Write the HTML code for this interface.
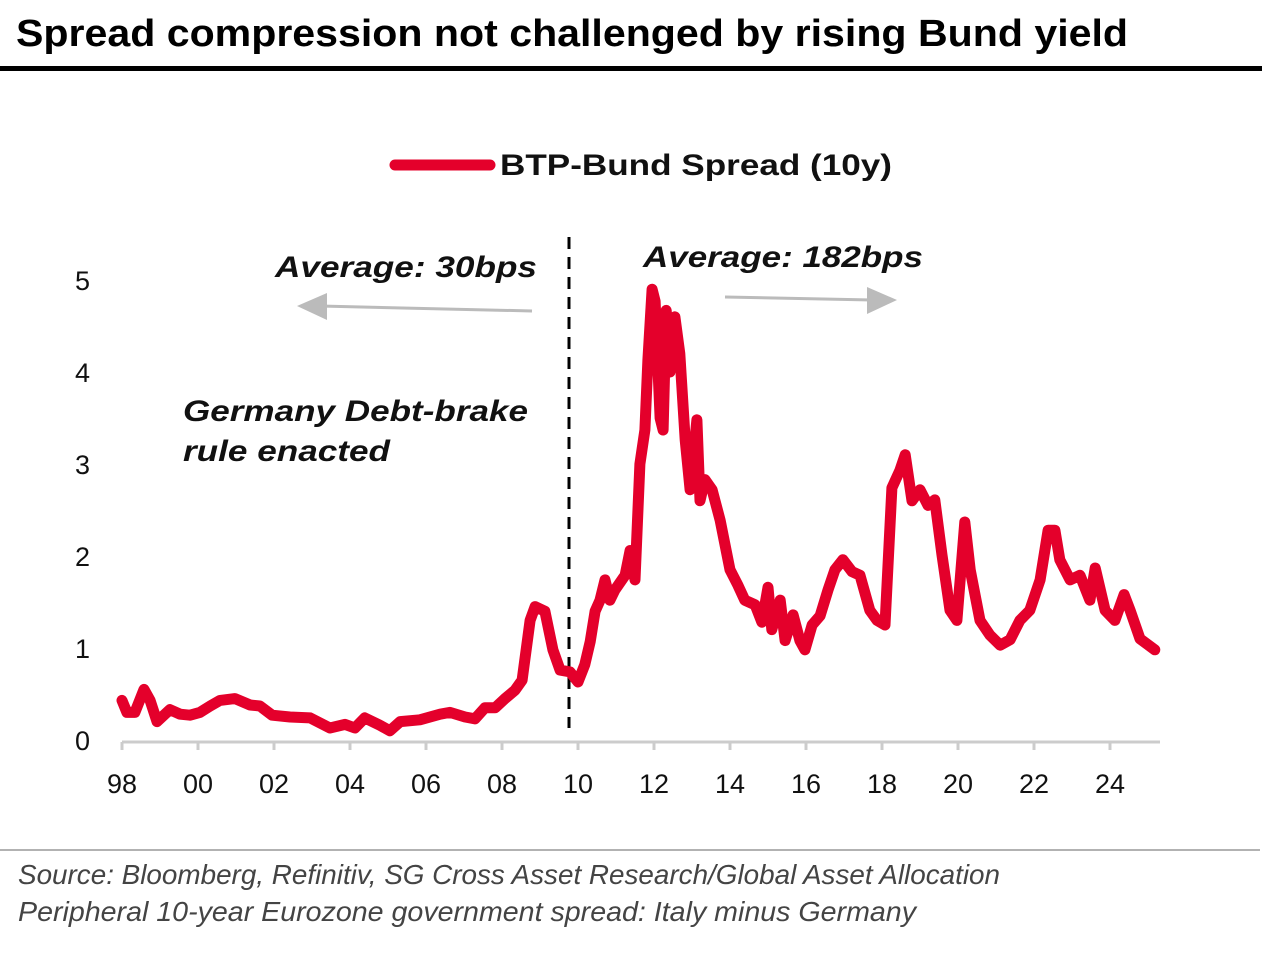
<!DOCTYPE html>
<html><head><meta charset="utf-8"><style>
body{margin:0;background:#fff;width:1272px;height:950px;overflow:hidden;font-family:"Liberation Sans",sans-serif}
</style></head><body>
<svg width="1272" height="950">
<text x="16" y="46" font-size="38" font-weight="bold" fill="#000" textLength="1112" lengthAdjust="spacingAndGlyphs">Spread compression not challenged by rising Bund yield</text>
<rect x="0" y="66" width="1262" height="5" fill="#000"/>
<g>
<line x1="395" y1="165" x2="490" y2="165" stroke="#e4002b" stroke-width="11" stroke-linecap="round"/>
<text x="500" y="175" font-size="30" font-weight="bold" fill="#111" textLength="392" lengthAdjust="spacingAndGlyphs">BTP-Bund Spread (10y)</text>
</g>
<g id="yt"></g>
<g id="xt"></g>
<line x1="569" y1="237" x2="569" y2="728" stroke="#000" stroke-width="3" stroke-dasharray="12,8"/>
<text x="275" y="277" font-size="30" font-weight="bold" font-style="italic" fill="#111" textLength="262" lengthAdjust="spacingAndGlyphs">Average: 30bps</text>
<text x="643" y="267" font-size="30" font-weight="bold" font-style="italic" fill="#111" textLength="280" lengthAdjust="spacingAndGlyphs">Average: 182bps</text>
<text x="183" y="421" font-size="30" font-weight="bold" font-style="italic" fill="#111" textLength="345" lengthAdjust="spacingAndGlyphs">Germany Debt-brake</text>
<text x="183" y="461" font-size="30" font-weight="bold" font-style="italic" fill="#111" textLength="207" lengthAdjust="spacingAndGlyphs">rule enacted</text>
<g><line x1="532" y1="311" x2="320" y2="306" stroke="#bbb" stroke-width="3"/><polygon points="297,306 327,293 327,320" fill="#bbb"/></g>
<g><line x1="725" y1="297" x2="872" y2="300" stroke="#bbb" stroke-width="3"/><polygon points="897,300 867,287 867,314" fill="#bbb"/></g>
<path id="ln" fill="none" stroke="#e4002b" stroke-width="11" stroke-linejoin="round" stroke-linecap="round"/>
<line x1="0" y1="850" x2="1260" y2="850" stroke="#999" stroke-width="1.5"/>
<text x="18" y="884" font-size="28" font-style="italic" fill="#444" textLength="982" lengthAdjust="spacingAndGlyphs">Source: Bloomberg, Refinitiv, SG Cross Asset Research/Global Asset Allocation</text>
<text x="18" y="921" font-size="28" font-style="italic" fill="#444" textLength="898" lengthAdjust="spacingAndGlyphs">Peripheral 10-year Eurozone government spread: Italy minus Germany</text>
</svg>
<script>
const yearsSince98=[0,.13,.34,.58,.74,.92,1.26,1.53,1.79,2.05,2.32,2.58,2.97,3.37,3.63,3.95,4.42,4.95,5.47,5.87,6.13,6.39,6.79,7.05,7.32,7.84,8.37,8.63,9.03,9.29,9.55,9.82,10.08,10.34,10.53,10.74,10.87,11.13,11.34,11.53,11.79,12.0,12.18,12.32,12.45,12.58,12.71,12.84,12.97,13.24,13.37,13.5,13.63,13.76,13.84,13.95,14.03,14.16,14.24,14.32,14.42,14.55,14.68,14.82,14.95,15.13,15.21,15.34,15.53,15.74,16.0,16.21,16.39,16.66,16.84,17.0,17.1,17.32,17.45,17.66,17.84,17.97,18.16,18.37,18.58,18.76,18.97,19.21,19.42,19.68,19.87,20.08,20.26,20.47,20.61,20.79,21.0,21.21,21.39,21.58,21.79,21.97,22.18,22.32,22.58,22.84,23.11,23.37,23.63,23.89,24.16,24.37,24.55,24.68,24.95,25.21,25.47,25.61,25.87,26.13,26.37,26.53,26.79,27.18];
const spread=[0.43,0.3,0.3,0.55,0.43,0.2,0.33,0.28,0.27,0.3,0.37,0.43,0.45,0.38,0.37,0.27,0.25,0.24,0.13,0.17,0.13,0.24,0.16,0.1,0.2,0.22,0.28,0.3,0.25,0.23,0.35,0.35,0.45,0.54,0.65,1.3,1.45,1.4,0.98,0.76,0.74,0.63,0.82,1.07,1.4,1.52,1.74,1.52,1.63,1.79,2.06,1.74,3.0,3.37,4.13,4.9,4.77,3.5,3.37,4.67,4.0,4.6,4.2,3.26,2.72,3.48,2.6,2.83,2.72,2.39,1.85,1.68,1.52,1.47,1.28,1.66,1.2,1.52,1.08,1.36,1.08,0.98,1.25,1.35,1.63,1.85,1.96,1.83,1.79,1.41,1.3,1.25,2.74,2.93,3.1,2.6,2.72,2.55,2.61,2.01,1.41,1.3,2.37,1.85,1.3,1.14,1.03,1.09,1.3,1.41,1.74,2.28,2.28,1.96,1.74,1.79,1.52,1.87,1.41,1.3,1.58,1.41,1.1,0.98];
const yTicks=[0,1,2,3,4,5];
const xTickLabels=["98","00","02","04","06","08","10","12","14","16","18","20","22","24"];
const xs=t=>122+t*38, ys=v=>740-v*92;
const NS="http://www.w3.org/2000/svg";
const yt=document.getElementById('yt'), xt=document.getElementById('xt');
yTicks.forEach(v=>{const t=document.createElementNS(NS,'text');t.setAttribute('x',90);t.setAttribute('y',ys(v)+10);t.setAttribute('font-size',27);t.setAttribute('text-anchor','end');t.setAttribute('fill','#111');t.textContent=v;


yt.appendChild(t);});
const ax=document.createElementNS(NS,'line');ax.setAttribute('x1',122);ax.setAttribute('x2',1160);ax.setAttribute('y1',742);ax.setAttribute('y2',742);ax.setAttribute('stroke','#ccc');ax.setAttribute('stroke-width',3);


xt.appendChild(ax);
xTickLabels.forEach((l,i)=>{const x=xs(i*2);const tk=document.createElementNS(NS,'line');tk.setAttribute('x1',x);tk.setAttribute('x2',x);tk.setAttribute('y1',742);tk.setAttribute('y2',750);tk.setAttribute('stroke','#ccc');tk.setAttribute('stroke-width',3);


xt.appendChild(tk);
const t=document.createElementNS(NS,'text');t.setAttribute('x',x);t.setAttribute('y',793);t.setAttribute('font-size',27);t.setAttribute('text-anchor','middle');t.setAttribute('fill','#111');t.textContent=l;


xt.appendChild(t);});
document.getElementById('ln').setAttribute('d',spread.map((v,i)=>(i?'L':'M')+xs(yearsSince98[i]).toFixed(1)+','+ys(v).toFixed(1)).join(''));
</script>
</body></html>
